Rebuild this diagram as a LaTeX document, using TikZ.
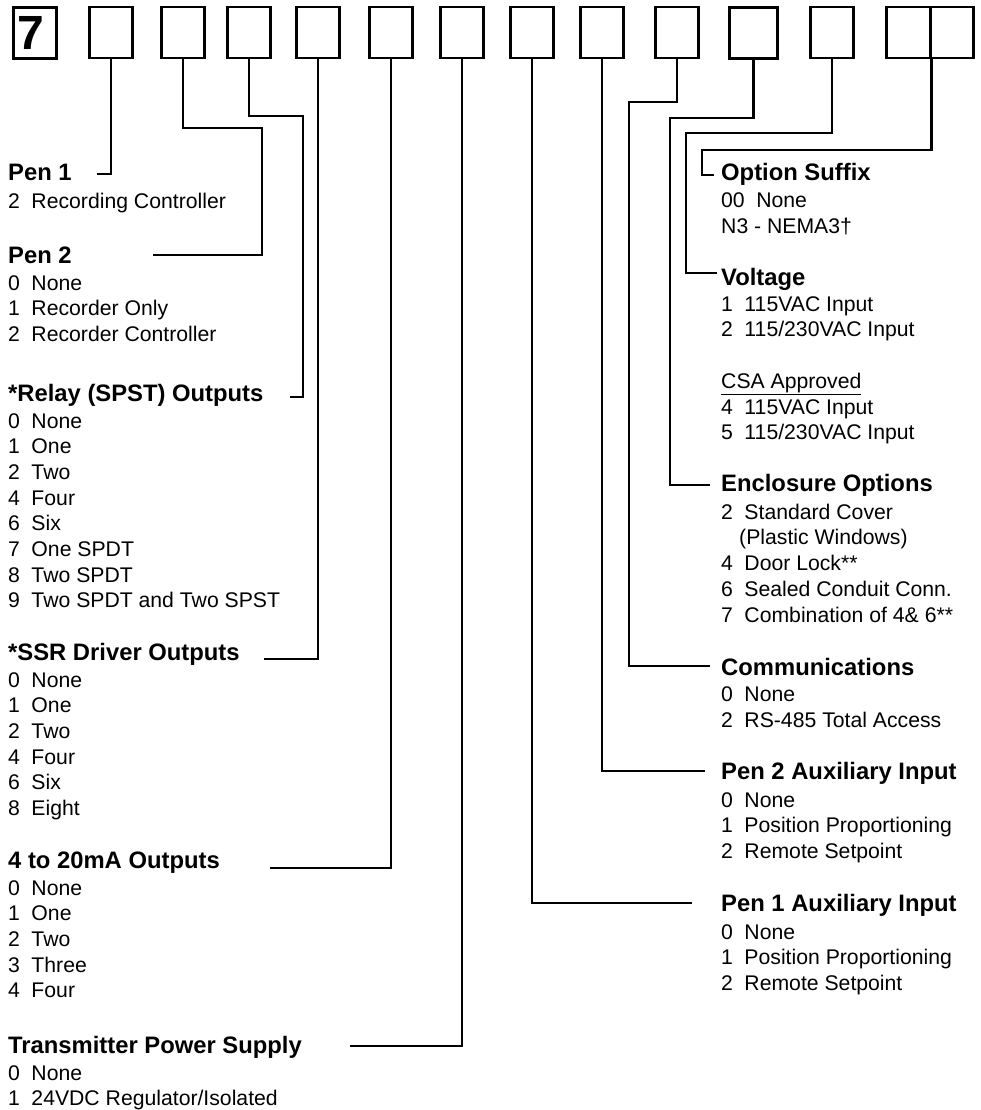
\documentclass[tikz,border=0pt]{standalone}
\usepackage{fontspec}
\setmainfont{Liberation Sans}
\newcommand{\opt}[2]{#1\hspace{11.5pt}#2}
\newcommand{\ttl}[1]{{\fontsize{23.8}{25.7}\selectfont\bfseries #1}}

\begin{document}
\begin{tikzpicture}[x=1pt,y=-1pt,
  slot/.style={draw,line width=2.6pt,minimum width=43.5pt,minimum height=51pt,inner sep=0pt},
  wire/.style={draw,line width=2.2pt},
  blk/.style={anchor=base west,inner sep=0pt,font=\fontsize{21.2}{25.7}\selectfont}]
  \useasboundingbox (0,0) rectangle (980,1110);
  \node[slot,font=\fontsize{48}{48}\selectfont\bfseries] (b0) at (35,33) {\hspace{-9pt}7};
  \foreach \cx [count=\i] in {111,183,249,318,391,462,532,602,677}
    \node[slot] (b\i) at (\cx,32.5) {};
  \node[slot,minimum width=48.5pt] (b10) at (753.5,33) {};
  \node[slot] (b11) at (832,32.5) {};
  \node[slot] (b12) at (908.5,32.5) {};
  \node[slot] (b13) at (952,32.5) {};

  \node[blk] (pen1) at (8,181) {\begin{tabular}[t]{@{}l@{}}\ttl{Pen 1}\\[2pt]
    \opt{2}{Recording Controller}\end{tabular}};
  \node[blk] (pen2) at (8,263) {\begin{tabular}[t]{@{}l@{}}\ttl{Pen 2}\\[1.3pt]
    \opt{0}{None}\\ \opt{1}{Recorder Only}\\ \opt{2}{Recorder Controller}\end{tabular}};
  \node[blk] (relay) at (8,401) {\begin{tabular}[t]{@{}l@{}}\ttl{*Relay (SPST) Outputs}\\[1.3pt]
    \opt{0}{None}\\ \opt{1}{One}\\ \opt{2}{Two}\\ \opt{4}{Four}\\ \opt{6}{Six}\\
    \opt{7}{One SPDT}\\ \opt{8}{Two SPDT}\\ \opt{9}{Two SPDT and Two SPST}\end{tabular}};
  \node[blk] (ssr) at (8,660) {\begin{tabular}[t]{@{}l@{}}\ttl{*SSR Driver Outputs}\\[1.3pt]
    \opt{0}{None}\\ \opt{1}{One}\\ \opt{2}{Two}\\ \opt{4}{Four}\\ \opt{6}{Six}\\
    \opt{8}{Eight}\end{tabular}};
  \node[blk] (ma) at (8,868) {\begin{tabular}[t]{@{}l@{}}\ttl{4 to 20mA Outputs}\\[1.3pt]
    \opt{0}{None}\\ \opt{1}{One}\\ \opt{2}{Two}\\ \opt{3}{Three}\\ \opt{4}{Four}\end{tabular}};
  \node[blk] (tps) at (8,1053) {\begin{tabular}[t]{@{}l@{}}\ttl{Transmitter Power Supply}\\[1.3pt]
    \opt{0}{None}\\ \opt{1}{24VDC Regulator/Isolated}\end{tabular}};

  \node[blk] (suffix) at (721,180.5) {\begin{tabular}[t]{@{}l@{}}\ttl{Option Suffix}\\[1.3pt]
    \opt{00}{None}\\ N3 - NEMA3†\end{tabular}};
  \node[blk] (volt) at (721,285.5) {\begin{tabular}[t]{@{}l@{}}\ttl{Voltage}\\[0pt]
    \opt{1}{115VAC Input}\\ \opt{2}{115/230VAC Input}\\ \\ \underline{CSA Approved}\\
    \opt{4}{115VAC Input}\\ \opt{5}{115/230VAC Input}\end{tabular}};
  \node[blk] (encl) at (721,491.5) {\begin{tabular}[t]{@{}l@{}}\ttl{Enclosure Options}\\[2pt]
    \opt{2}{Standard Cover}\\ \hspace*{18pt}(Plastic Windows)\\ \opt{4}{Door Lock**}\\
    \opt{6}{Sealed Conduit Conn.}\\ \opt{7}{Combination of 4\& 6**}\end{tabular}};
  \node[blk] (comm) at (721,675.5) {\begin{tabular}[t]{@{}l@{}}\ttl{Communications}\\[0.5pt]
    \opt{0}{None}\\ \opt{2}{RS-485 Total Access}\end{tabular}};
  \node[blk] (aux2) at (721,779.5) {\begin{tabular}[t]{@{}l@{}}\ttl{Pen 2 Auxiliary Input}\\[2pt]
    \opt{0}{None}\\ \opt{1}{Position Proportioning}\\ \opt{2}{Remote Setpoint}\end{tabular}};
  \node[blk] (aux1) at (721,911.5) {\begin{tabular}[t]{@{}l@{}}\ttl{Pen 1 Auxiliary Input}\\[2pt]
    \opt{0}{None}\\ \opt{1}{Position Proportioning}\\ \opt{2}{Remote Setpoint}\end{tabular}};

  \coordinate (e1) at (97,174);
  \coordinate (e2) at (153,255);
  \coordinate (e3) at (290,397);
  \coordinate (e4) at (264,659);
  \coordinate (e5) at (270,868);
  \coordinate (e6) at (350,1046);
  \coordinate (e7) at (692,903);
  \coordinate (e8) at (705,771);
  \coordinate (e9) at (710,666);
  \coordinate (e10) at (710,485);
  \coordinate (e11) at (717,273);
  \coordinate (e12) at (714,175);

  \draw[wire] (b1.south) |- (e1);
  \draw[wire] (b2.south) |- (262,128) |- (e2);
  \draw[wire] (b3.south) |- (303,116) |- (e3);
  \draw[wire] (b4.south) |- (e4);
  \draw[wire] (b5.south) |- (e5);
  \draw[wire] (b6.south) |- (e6);
  \draw[wire] (b7.south) |- (e7);
  \draw[wire] (b8.south) |- (e8);
  \draw[wire] (b9.south) |- (629,102) |- (e9);
  \draw[wire] (b10.south) |- (670,118) |- (e10);
  \draw[wire] (b11.south) |- (686,133) |- (e11);
  \draw[wire] (b12.south east) |- (702,150) |- (e12);
\end{tikzpicture}
\end{document}
